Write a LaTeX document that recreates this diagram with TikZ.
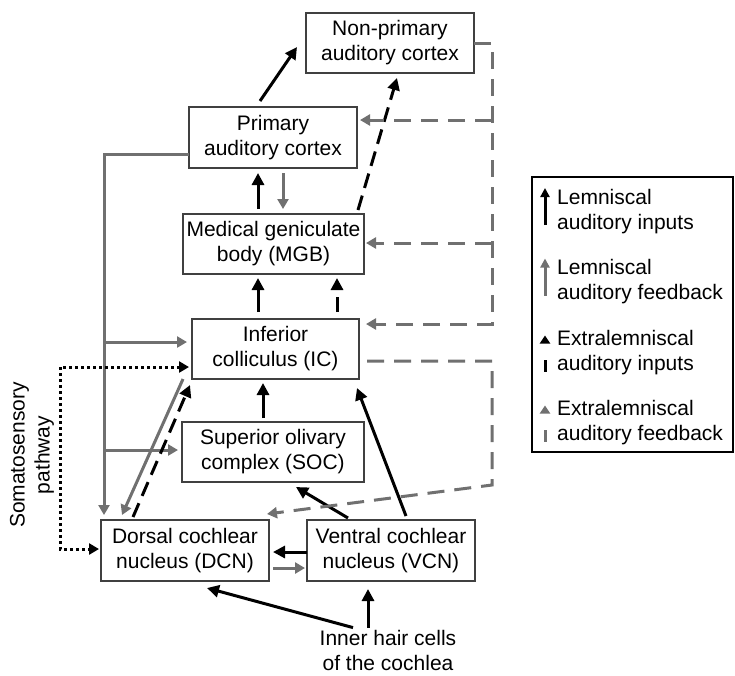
\documentclass[tikz,border=0pt]{standalone}
\usepackage{fontspec}
\setmainfont{Liberation Sans}
\usetikzlibrary{arrows.meta,calc}
\definecolor{fb}{HTML}{707070}
\definecolor{bd}{HTML}{404040}
\begin{document}
\begin{tikzpicture}[x=1pt,y=-1pt,
 box/.style={draw=bd,line width=2.5pt,inner sep=0pt,outer sep=0pt,align=center,font=\fontsize{21}{25}\selectfont},
 txt/.style={font=\fontsize{21}{25}\selectfont,align=center,inner sep=0pt},
 inp/.style={line width=3pt,-{Triangle[length=12pt,width=12pt]}},
 fbk/.style={fb,line width=3pt,-{Triangle[length=10pt,width=11pt]}},
 xin/.style={inp,dash pattern=on 15pt off 8pt},
 xfb/.style={fbk,dash pattern=on 17pt off 10pt},
 som/.style={line width=3pt,dash pattern=on 3pt off 3pt,{Triangle[length=10pt,width=11pt]}-{Triangle[length=10pt,width=11pt]}}]
\path[use as bounding box] (0,0) rectangle (735,675);
% boxes
\node[box,minimum width=168pt,minimum height=60pt] (NP) at (390,43) {Non-primary\\auditory cortex};
\node[box,minimum width=168pt,minimum height=61pt] (PAC) at (273,137.5) {Primary\\auditory cortex};
\node[box,minimum width=181pt,minimum height=60pt] (MGB) at (273.5,244) {Medical geniculate\\body (MGB)};
\node[box,minimum width=167pt,minimum height=60pt] (IC) at (275.5,349) {Inferior\\colliculus (IC)};
\node[box,minimum width=182pt,minimum height=60pt] (SOC) at (273,452) {Superior olivary\\complex (SOC)};
\node[box,minimum width=168pt,minimum height=61pt] (DCN) at (185,550.5) {Dorsal cochlear\\nucleus (DCN)};
\node[box,minimum width=168pt,minimum height=61pt] (VCN) at (391,550.5) {Ventral cochlear\\nucleus (VCN)};
\node[txt] (hair) at (388,650) {Inner hair cells\\of the cochlea};
\node[txt,rotate=90] (soma) at (32,455) {Somatosensory\\pathway};
% lemniscal / extralemniscal inputs
\draw[inp] ([xshift=-13pt,yshift=6pt]PAC.north) -- ([xshift=-9pt,yshift=-4pt]NP.west);
\draw[xin] ([xshift=84.5pt,yshift=4pt]MGB.north) -- ([xshift=7pt,yshift=-5pt]NP.south);
\draw[inp] ([xshift=-15.5pt,yshift=5pt]MGB.north) -- ([xshift=-15pt,yshift=-5pt]PAC.south);
\draw[fbk] ([xshift=10pt,yshift=-5pt]PAC.south) -- ([xshift=9.5pt,yshift=5pt]MGB.north);
\draw[inp] ([xshift=-17.5pt,yshift=7pt]IC.north) -- ([xshift=-15.5pt,yshift=-4pt]MGB.south);
\draw[xin] ([xshift=61.5pt,yshift=7pt]IC.north) -- ([xshift=63.5pt,yshift=-4pt]MGB.south);
\draw[inp] ([xshift=-10pt,yshift=4pt]SOC.north) -- ([xshift=-12.5pt,yshift=-4pt]IC.south);
% left feedback trunk
\coordinate (trunk) at (104,300);
\draw[fbk] ([yshift=-16.5pt]PAC.west) -| ([xshift=-81pt,yshift=5pt]DCN.north);
\coordinate (icin) at ([xshift=-5pt,yshift=7pt]IC.west);
\draw[fbk] (trunk |- icin) -- (icin);
\coordinate (socin) at ([xshift=-4pt,yshift=2pt]SOC.west);
\draw[fbk] (trunk |- socin) -- (socin);
\draw[fbk] ([xshift=-9pt]IC.south west) -- ([xshift=-63pt,yshift=5pt]DCN.north);
\draw[xin] ([xshift=-52pt,yshift=3pt]DCN.north) -- ([xshift=-2pt,yshift=-6pt]IC.south west);
% somatosensory
\coordinate (sa) at ([xshift=-3pt,yshift=-18pt]IC.west);
\coordinate (sb) at ([xshift=-2pt,yshift=1.5pt]DCN.west);
\coordinate (sx) at (60,450);
\draw[som] (sa) -| (sx) |- (sb);
% cochlear nuclei
\draw[inp] ([yshift=-1.5pt]VCN.west) -- ([xshift=4pt,yshift=-1.5pt]DCN.east);
\draw[fbk] ([xshift=4pt,yshift=-17.5pt]DCN.east) -- ([xshift=-2pt,yshift=-17.5pt]VCN.west);
\draw[inp] ([xshift=-43pt,yshift=2pt]VCN.north) -- ([xshift=23pt,yshift=-5pt]SOC.south);
\draw[inp] ([xshift=15pt,yshift=4pt]VCN.north) -- ([xshift=-2pt,yshift=-9pt]IC.south east);
\draw[inp] ([xshift=-20pt,yshift=2pt]hair.north) -- ([xshift=-23pt,yshift=-8pt]VCN.south);
\draw[inp] ([xshift=-35pt,yshift=2pt]hair.north) -- ([xshift=22pt,yshift=-7pt]DCN.south);
% right extralemniscal feedback
\coordinate (rx) at (492,200);
\coordinate (icfb) at ([xshift=7pt,yshift=25pt]IC.east);
\coordinate (pacfb) at ([xshift=3pt,yshift=17.5pt]PAC.east);
\coordinate (mgbfb) at ([xshift=2pt,yshift=1pt]MGB.east);
\draw[xfb] (NP.east) -| (rx) |- (icfb);
\draw[xfb] (rx |- pacfb) -- (pacfb);
\draw[xfb] (rx |- mgbfb) -- (mgbfb);
\coordinate (r2) at (492,485);
\draw[xfb] ([xshift=8pt,yshift=-12pt]IC.east) -| (r2) -- ([xshift=-2pt,yshift=6pt]DCN.north east);
% legend
\node[draw,line width=1.5pt,minimum width=201pt,minimum height=275pt,inner sep=0pt] (leg) at (632.5,314.5) {};
\node[txt,anchor=west,align=left] (l1) at (557,211.5) {Lemniscal\\auditory inputs};
\node[txt,anchor=west,align=left] (l2) at (557,282) {Lemniscal\\auditory feedback};
\node[txt,anchor=west,align=left] (l3) at (557,352.5) {Extralemniscal\\auditory inputs};
\node[txt,anchor=west,align=left] (l4) at (557,422.5) {Extralemniscal\\auditory feedback};
\draw[line width=3pt,-{Triangle[length=9pt,width=9pt]}] ([xshift=-12pt,yshift=-13.5pt]l1.west) -- ([xshift=-12pt,yshift=23.5pt]l1.west);
\draw[fb,line width=3pt,-{Triangle[length=9pt,width=9pt]}] ([xshift=-12pt,yshift=-13.5pt]l2.west) -- ([xshift=-12pt,yshift=23.5pt]l2.west);
\draw[line width=3pt,dash pattern=on 12pt off 30pt,-{Triangle[length=8pt,width=10pt]}] ([xshift=-12pt,yshift=-19pt]l3.west) -- ([xshift=-12pt,yshift=17pt]l3.west);
\draw[fb,line width=3pt,dash pattern=on 12pt off 30pt,-{Triangle[length=8pt,width=10pt]}] ([xshift=-12pt,yshift=-19pt]l4.west) -- ([xshift=-12pt,yshift=17pt]l4.west);
\end{tikzpicture}
\end{document}
